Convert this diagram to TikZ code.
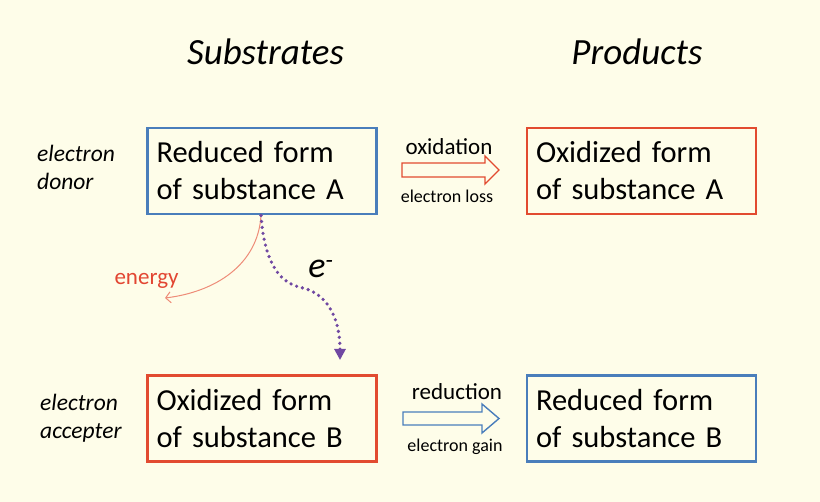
\documentclass[tikz,border=0pt]{standalone}
\usepackage{fontspec}
\setmainfont{Carlito}
\usetikzlibrary{arrows.meta}
\definecolor{bg}{RGB}{254,253,233}
\definecolor{boxblue}{RGB}{74,126,187}
\definecolor{boxred}{RGB}{226,75,48}
\definecolor{epurple}{RGB}{112,72,162}
\definecolor{esalmon}{RGB}{238,140,120}
\definecolor{ered}{RGB}{226,70,50}
\tikzset{
  x=1pt,y=-1pt,
  subbox/.style={draw,line width=2.5pt,minimum width=229pt,minimum height=86pt,
    text width=211pt,align=left,inner xsep=9pt,font=\fontsize{30.5}{37}\selectfont},
  bluebox/.style={subbox,draw=boxblue},
  redbox/.style={subbox,draw=boxred},
  title/.style={font=\fontsize{37}{44}\selectfont\itshape,anchor=base},
  side/.style={font=\fontsize{23.5}{28}\selectfont\itshape,align=left,anchor=base west,inner sep=0pt},
  hollow/.style={line width=1.4pt,fill=bg,line join=miter},
  arrlab/.style={font=\fontsize{23}{26}\selectfont,anchor=base},
  arrsub/.style={font=\fontsize{18}{20}\selectfont,anchor=base},
}
\begin{document}
\begin{tikzpicture}
\fill[bg] (0,0) rectangle (820,502);
\useasboundingbox (0,0) rectangle (820,502);

\node[title] (tsub) at (265.5,65) {Substrates};
\node[title] (tprod) at (637,65) {Products};

\node[bluebox] (redA) at (262,171) {Reduced form\\of substance A};
\node[redbox] (oxA) at (641.5,171) {Oxidized form\\of substance A};
\node[redbox] (oxB) at (262,418.5) {Oxidized form\\of substance B};
\node[bluebox] (redB) at (641.5,418.5) {Reduced form\\of substance B};

\node[side] (donor) at (37,190) {electron\\donor};
\node[side] (accept) at (40,439) {electron\\accepter};

\draw[hollow,draw=boxred] (402,163) -- (485,163) -- (485,156) -- (499,170)
  -- (485,184) -- (485,177) -- (402,177) -- cycle;
\node[arrlab] (oxlab) at (449,155) {oxidation};
\node[arrsub] (oxsub) at (447,203) {electron loss};

\draw[hollow,draw=boxblue] (403,412) -- (482,412) -- (482,404) -- (499,418.5)
  -- (482,433) -- (482,425) -- (403,425) -- cycle;
\node[arrlab] (redlab) at (457,400) {reduction};
\node[arrsub] (redsub) at (455,452) {electron gain};

\coordinate (src) at (261,215.5);
\coordinate (enend) at (165,298);
\coordinate (eend) at (340,360);
\draw[esalmon,line width=1pt,-{Straight Barb[length=5pt,width=11pt]}]
  (src) .. controls (258,265) and (215,292) .. (enend);
\node[font=\fontsize{23}{26}\selectfont,text=ered,anchor=base] (energy) at (146.5,285) {energy};

\draw[epurple,line width=3.6pt,line cap=round,dash pattern=on 0pt off 6pt,
  -{Triangle[width=11pt,length=11pt]}]
  (src) .. controls (264,255) and (275,283) .. (303,288) .. controls (330,295) and (340,322) .. (eend);
\node[font=\fontsize{36}{40}\selectfont\itshape,anchor=base] (elec) at (321,278) {e\textsuperscript{-}};
\end{tikzpicture}
\end{document}
